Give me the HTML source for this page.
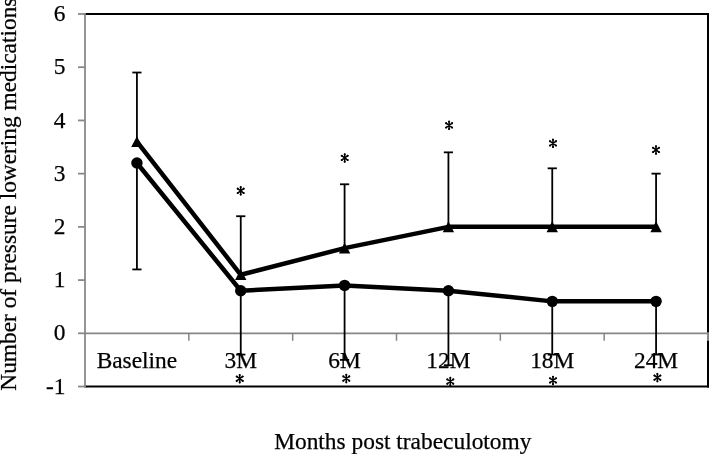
<!DOCTYPE html>
<html><head><meta charset="utf-8"><style>
html,body{margin:0;padding:0;background:#fff;}
body{width:709px;height:454px;overflow:hidden;}
svg{display:block;will-change:transform;}
text{font-family:"Liberation Serif",serif;font-size:23.4px;fill:#000;stroke:#000;stroke-width:0.25px;}
</style></head><body>
<svg width="709" height="454" viewBox="0 0 709 454">
<line x1="85.0" y1="14" x2="709.0" y2="14" stroke="#000" stroke-width="2"/>
<line x1="708" y1="13" x2="708" y2="387.5" stroke="#000" stroke-width="2"/>
<line x1="85.0" y1="386.52" x2="709.0" y2="386.52" stroke="#000" stroke-width="2"/>
<line x1="85.0" y1="333.3" x2="709" y2="333.3" stroke="#868686" stroke-width="1.75"/>
<line x1="188.83" y1="333.3" x2="188.83" y2="340.8" stroke="#868686" stroke-width="1.5"/>
<line x1="292.67" y1="333.3" x2="292.67" y2="340.8" stroke="#868686" stroke-width="1.5"/>
<line x1="396.50" y1="333.3" x2="396.50" y2="340.8" stroke="#868686" stroke-width="1.5"/>
<line x1="500.33" y1="333.3" x2="500.33" y2="340.8" stroke="#868686" stroke-width="1.5"/>
<line x1="604.17" y1="333.3" x2="604.17" y2="340.8" stroke="#868686" stroke-width="1.5"/>
<rect x="707" y="332.40000000000003" width="2" height="8.4" fill="#868686"/>
<line x1="85.0" y1="13" x2="85.0" y2="387.5" stroke="#868686" stroke-width="1.75"/>
<line x1="78" y1="386.52" x2="85.0" y2="386.52" stroke="#868686" stroke-width="1.75"/>
<line x1="78" y1="333.30" x2="85.0" y2="333.30" stroke="#868686" stroke-width="1.75"/>
<line x1="78" y1="280.08" x2="85.0" y2="280.08" stroke="#868686" stroke-width="1.75"/>
<line x1="78" y1="226.86" x2="85.0" y2="226.86" stroke="#868686" stroke-width="1.75"/>
<line x1="78" y1="173.64" x2="85.0" y2="173.64" stroke="#868686" stroke-width="1.75"/>
<line x1="78" y1="120.42" x2="85.0" y2="120.42" stroke="#868686" stroke-width="1.75"/>
<line x1="78" y1="67.20" x2="85.0" y2="67.20" stroke="#868686" stroke-width="1.75"/>
<line x1="78" y1="13.98" x2="85.0" y2="13.98" stroke="#868686" stroke-width="1.75"/>
<line x1="136.92" y1="141.71" x2="136.92" y2="72.52" stroke="#000" stroke-width="1.8"/>
<line x1="132.32" y1="72.52" x2="141.52" y2="72.52" stroke="#000" stroke-width="1.8"/>
<line x1="136.92" y1="163.00" x2="136.92" y2="269.44" stroke="#000" stroke-width="1.8"/>
<line x1="132.32" y1="269.44" x2="141.52" y2="269.44" stroke="#000" stroke-width="1.8"/>
<line x1="240.75" y1="274.76" x2="240.75" y2="216.22" stroke="#000" stroke-width="1.8"/>
<line x1="236.15" y1="216.22" x2="245.35" y2="216.22" stroke="#000" stroke-width="1.8"/>
<line x1="240.75" y1="290.72" x2="240.75" y2="354.59" stroke="#000" stroke-width="1.8"/>
<line x1="236.15" y1="354.59" x2="245.35" y2="354.59" stroke="#000" stroke-width="1.8"/>
<line x1="344.58" y1="248.15" x2="344.58" y2="184.28" stroke="#000" stroke-width="1.8"/>
<line x1="339.98" y1="184.28" x2="349.18" y2="184.28" stroke="#000" stroke-width="1.8"/>
<line x1="344.58" y1="285.40" x2="344.58" y2="359.91" stroke="#000" stroke-width="1.8"/>
<line x1="339.98" y1="359.91" x2="349.18" y2="359.91" stroke="#000" stroke-width="1.8"/>
<line x1="448.42" y1="226.86" x2="448.42" y2="152.35" stroke="#000" stroke-width="1.8"/>
<line x1="443.82" y1="152.35" x2="453.02" y2="152.35" stroke="#000" stroke-width="1.8"/>
<line x1="448.42" y1="290.72" x2="448.42" y2="365.23" stroke="#000" stroke-width="1.8"/>
<line x1="443.82" y1="365.23" x2="453.02" y2="365.23" stroke="#000" stroke-width="1.8"/>
<line x1="552.25" y1="226.86" x2="552.25" y2="168.32" stroke="#000" stroke-width="1.8"/>
<line x1="547.65" y1="168.32" x2="556.85" y2="168.32" stroke="#000" stroke-width="1.8"/>
<line x1="552.25" y1="301.37" x2="552.25" y2="354.59" stroke="#000" stroke-width="1.8"/>
<line x1="547.65" y1="354.59" x2="556.85" y2="354.59" stroke="#000" stroke-width="1.8"/>
<line x1="656.08" y1="226.86" x2="656.08" y2="173.64" stroke="#000" stroke-width="1.8"/>
<line x1="651.48" y1="173.64" x2="660.68" y2="173.64" stroke="#000" stroke-width="1.8"/>
<line x1="656.08" y1="301.37" x2="656.08" y2="354.59" stroke="#000" stroke-width="1.8"/>
<line x1="651.48" y1="354.59" x2="660.68" y2="354.59" stroke="#000" stroke-width="1.8"/>
<polyline points="136.92,141.71 240.75,274.76 344.58,248.15 448.42,226.86 552.25,226.86 656.08,226.86" fill="none" stroke="#000" stroke-width="4.5" stroke-linejoin="round"/>
<polyline points="136.92,163.00 240.75,290.72 344.58,285.40 448.42,290.72 552.25,301.37 656.08,301.37" fill="none" stroke="#000" stroke-width="4.5" stroke-linejoin="round"/>
<polygon points="136.92,136.21 142.62,147.01 131.22,147.01" fill="#000"/>
<circle cx="136.92" cy="163.00" r="5.7" fill="#000"/>
<polygon points="240.75,269.26 246.45,280.06 235.05,280.06" fill="#000"/>
<circle cx="240.75" cy="290.72" r="5.7" fill="#000"/>
<polygon points="344.58,242.65 350.28,253.45 338.88,253.45" fill="#000"/>
<circle cx="344.58" cy="285.40" r="5.7" fill="#000"/>
<polygon points="448.42,221.36 454.12,232.16 442.72,232.16" fill="#000"/>
<circle cx="448.42" cy="290.72" r="5.7" fill="#000"/>
<polygon points="552.25,221.36 557.95,232.16 546.55,232.16" fill="#000"/>
<circle cx="552.25" cy="301.37" r="5.7" fill="#000"/>
<polygon points="656.08,221.36 661.78,232.16 650.38,232.16" fill="#000"/>
<circle cx="656.08" cy="301.37" r="5.7" fill="#000"/>
<text x="65.5" y="393.62" text-anchor="end">-1</text>
<text x="65.5" y="340.40" text-anchor="end">0</text>
<text x="65.5" y="287.18" text-anchor="end">1</text>
<text x="65.5" y="233.96" text-anchor="end">2</text>
<text x="65.5" y="180.74" text-anchor="end">3</text>
<text x="65.5" y="127.52" text-anchor="end">4</text>
<text x="65.5" y="74.30" text-anchor="end">5</text>
<text x="65.5" y="21.08" text-anchor="end">6</text>
<text x="136.92" y="367.5" text-anchor="middle">Baseline</text>
<text x="240.75" y="367.5" text-anchor="middle">3M</text>
<text x="344.58" y="367.5" text-anchor="middle">6M</text>
<text x="448.42" y="367.5" text-anchor="middle">12M</text>
<text x="552.25" y="367.5" text-anchor="middle">18M</text>
<text x="656.08" y="367.5" text-anchor="middle">24M</text>
<g transform="translate(240.70,190.80)"><path d="M0,-3.9V3.9M-3.1,-2.25L3.1,2.25M-3.1,2.25L3.1,-2.25" stroke="#000" stroke-width="1.5" stroke-linecap="round" fill="none"/><path d="M0,-4.75a1.05,1.05 0 1,0 0.001,0zM0,2.65a1.05,1.05 0 1,0 0.001,0zM-2.95,-3.2a1.05,1.05 0 1,0 0.001,0zM2.95,1.1a1.05,1.05 0 1,0 0.001,0zM-2.95,1.1a1.05,1.05 0 1,0 0.001,0zM2.95,-3.2a1.05,1.05 0 1,0 0.001,0z" fill="#000"/></g>
<g transform="translate(344.70,157.90)"><path d="M0,-3.9V3.9M-3.1,-2.25L3.1,2.25M-3.1,2.25L3.1,-2.25" stroke="#000" stroke-width="1.5" stroke-linecap="round" fill="none"/><path d="M0,-4.75a1.05,1.05 0 1,0 0.001,0zM0,2.65a1.05,1.05 0 1,0 0.001,0zM-2.95,-3.2a1.05,1.05 0 1,0 0.001,0zM2.95,1.1a1.05,1.05 0 1,0 0.001,0zM-2.95,1.1a1.05,1.05 0 1,0 0.001,0zM2.95,-3.2a1.05,1.05 0 1,0 0.001,0z" fill="#000"/></g>
<g transform="translate(449.10,125.30)"><path d="M0,-3.9V3.9M-3.1,-2.25L3.1,2.25M-3.1,2.25L3.1,-2.25" stroke="#000" stroke-width="1.5" stroke-linecap="round" fill="none"/><path d="M0,-4.75a1.05,1.05 0 1,0 0.001,0zM0,2.65a1.05,1.05 0 1,0 0.001,0zM-2.95,-3.2a1.05,1.05 0 1,0 0.001,0zM2.95,1.1a1.05,1.05 0 1,0 0.001,0zM-2.95,1.1a1.05,1.05 0 1,0 0.001,0zM2.95,-3.2a1.05,1.05 0 1,0 0.001,0z" fill="#000"/></g>
<g transform="translate(553.00,143.30)"><path d="M0,-3.9V3.9M-3.1,-2.25L3.1,2.25M-3.1,2.25L3.1,-2.25" stroke="#000" stroke-width="1.5" stroke-linecap="round" fill="none"/><path d="M0,-4.75a1.05,1.05 0 1,0 0.001,0zM0,2.65a1.05,1.05 0 1,0 0.001,0zM-2.95,-3.2a1.05,1.05 0 1,0 0.001,0zM2.95,1.1a1.05,1.05 0 1,0 0.001,0zM-2.95,1.1a1.05,1.05 0 1,0 0.001,0zM2.95,-3.2a1.05,1.05 0 1,0 0.001,0z" fill="#000"/></g>
<g transform="translate(656.00,149.90)"><path d="M0,-3.9V3.9M-3.1,-2.25L3.1,2.25M-3.1,2.25L3.1,-2.25" stroke="#000" stroke-width="1.5" stroke-linecap="round" fill="none"/><path d="M0,-4.75a1.05,1.05 0 1,0 0.001,0zM0,2.65a1.05,1.05 0 1,0 0.001,0zM-2.95,-3.2a1.05,1.05 0 1,0 0.001,0zM2.95,1.1a1.05,1.05 0 1,0 0.001,0zM-2.95,1.1a1.05,1.05 0 1,0 0.001,0zM2.95,-3.2a1.05,1.05 0 1,0 0.001,0z" fill="#000"/></g>
<g transform="translate(239.70,378.70)"><path d="M0,-3.9V3.9M-3.1,-2.25L3.1,2.25M-3.1,2.25L3.1,-2.25" stroke="#000" stroke-width="1.5" stroke-linecap="round" fill="none"/><path d="M0,-4.75a1.05,1.05 0 1,0 0.001,0zM0,2.65a1.05,1.05 0 1,0 0.001,0zM-2.95,-3.2a1.05,1.05 0 1,0 0.001,0zM2.95,1.1a1.05,1.05 0 1,0 0.001,0zM-2.95,1.1a1.05,1.05 0 1,0 0.001,0zM2.95,-3.2a1.05,1.05 0 1,0 0.001,0z" fill="#000"/></g>
<g transform="translate(346.30,378.50)"><path d="M0,-3.9V3.9M-3.1,-2.25L3.1,2.25M-3.1,2.25L3.1,-2.25" stroke="#000" stroke-width="1.5" stroke-linecap="round" fill="none"/><path d="M0,-4.75a1.05,1.05 0 1,0 0.001,0zM0,2.65a1.05,1.05 0 1,0 0.001,0zM-2.95,-3.2a1.05,1.05 0 1,0 0.001,0zM2.95,1.1a1.05,1.05 0 1,0 0.001,0zM-2.95,1.1a1.05,1.05 0 1,0 0.001,0zM2.95,-3.2a1.05,1.05 0 1,0 0.001,0z" fill="#000"/></g>
<g transform="translate(450.30,381.50)"><path d="M0,-3.9V3.9M-3.1,-2.25L3.1,2.25M-3.1,2.25L3.1,-2.25" stroke="#000" stroke-width="1.5" stroke-linecap="round" fill="none"/><path d="M0,-4.75a1.05,1.05 0 1,0 0.001,0zM0,2.65a1.05,1.05 0 1,0 0.001,0zM-2.95,-3.2a1.05,1.05 0 1,0 0.001,0zM2.95,1.1a1.05,1.05 0 1,0 0.001,0zM-2.95,1.1a1.05,1.05 0 1,0 0.001,0zM2.95,-3.2a1.05,1.05 0 1,0 0.001,0z" fill="#000"/></g>
<g transform="translate(553.00,380.40)"><path d="M0,-3.9V3.9M-3.1,-2.25L3.1,2.25M-3.1,2.25L3.1,-2.25" stroke="#000" stroke-width="1.5" stroke-linecap="round" fill="none"/><path d="M0,-4.75a1.05,1.05 0 1,0 0.001,0zM0,2.65a1.05,1.05 0 1,0 0.001,0zM-2.95,-3.2a1.05,1.05 0 1,0 0.001,0zM2.95,1.1a1.05,1.05 0 1,0 0.001,0zM-2.95,1.1a1.05,1.05 0 1,0 0.001,0zM2.95,-3.2a1.05,1.05 0 1,0 0.001,0z" fill="#000"/></g>
<g transform="translate(657.40,377.60)"><path d="M0,-3.9V3.9M-3.1,-2.25L3.1,2.25M-3.1,2.25L3.1,-2.25" stroke="#000" stroke-width="1.5" stroke-linecap="round" fill="none"/><path d="M0,-4.75a1.05,1.05 0 1,0 0.001,0zM0,2.65a1.05,1.05 0 1,0 0.001,0zM-2.95,-3.2a1.05,1.05 0 1,0 0.001,0zM2.95,1.1a1.05,1.05 0 1,0 0.001,0zM-2.95,1.1a1.05,1.05 0 1,0 0.001,0zM2.95,-3.2a1.05,1.05 0 1,0 0.001,0z" fill="#000"/></g>
<text x="402.8" y="449" text-anchor="middle">Months post trabeculotomy</text>
<text transform="translate(16.2,390.7) rotate(-90)" x="0" y="0" style="font-size:23.36px">Number of pressure lowering medications</text>
</svg>
</body></html>
